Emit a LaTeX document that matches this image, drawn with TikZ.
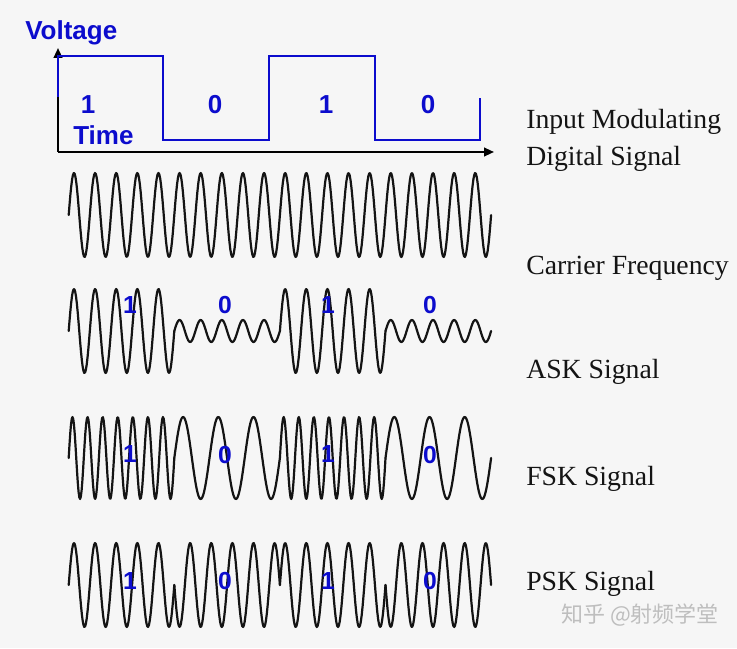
\documentclass[tikz,border=0pt]{standalone}
\usepackage{fontspec}
\setmainfont{Liberation Serif}
\newfontfamily\arialfont{Liberation Sans}
\newfontfamily\cjkfont{Noto Sans CJK SC}
\usetikzlibrary{arrows.meta}
\definecolor{bg}{RGB}{246,246,246}
\definecolor{sigblue}{RGB}{12,12,205}
\definecolor{wmark}{RGB}{190,190,190}
\begin{document}
\begin{tikzpicture}[x=0.75pt,y=-0.75pt,
  wave/.style={line width=1.65pt,black!92,line join=round,line cap=round},
  axisline/.style={line width=1.5pt,black,-{Triangle[length=7.5pt,width=6.5pt]}},
  sqwave/.style={line width=1.15pt,sigblue,line join=miter},
  bluelbl/.style={text=sigblue,font=\arialfont\bfseries\fontsize{19.5}{22}\selectfont,inner sep=0pt},
  bitlbl/.style={text=sigblue,font=\arialfont\bfseries\fontsize{19.5}{22}\selectfont,inner sep=0pt},
  sigbit/.style={text=sigblue,font=\arialfont\bfseries\fontsize{18.5}{20}\selectfont,inner sep=0pt},
  sidelbl/.style={anchor=base west,font=\fontsize{20.8}{24}\selectfont,inner sep=0pt,text=black!92}]
\fill[bg] (0,0) rectangle (737,648);
\useasboundingbox (0,0) rectangle (737,648);

% ---- input digital signal ----
\coordinate (origin) at (58,152);
\coordinate (ytip) at (58,48);
\coordinate (xtip) at (494,152);
\draw[axisline] (origin) -- (ytip);
\draw[axisline] (origin) -- (xtip);
\draw[sqwave] (58,97) -- (58,56) -- (163,56) -- (163,140) -- (269,140) -- (269,56)
  -- (375,56) -- (375,140) -- (480,140) -- (480,98);
\node[bluelbl,anchor=base west] (volt) at (25,40) {Voltage};
\node[bluelbl,anchor=base west] (time) at (73,145) {Time};
\node[bitlbl] (b1) at (88,105) {1};
\node[bitlbl] (b2) at (215,105) {0};
\node[bitlbl] (b3) at (326,105) {1};
\node[bitlbl] (b4) at (428,105) {0};

% ---- carrier ----
\draw[wave] plot[domain=0:422.4,samples=500] ({68.7+\x},{215-42*sin((\x/21.12)*360)});

% ---- ASK ----
\foreach \i/\a in {0/42,1/11,2/42,3/11}
  \draw[wave] plot[domain=0:105.6,samples=130] ({68.7+\i*105.6+\x},{331-\a*sin((\x/21.12)*360)});
\node[sigbit] (a1) at (130,305) {1};
\node[sigbit] (a2) at (225,305) {0};
\node[sigbit] (a3) at (328,305) {1};
\node[sigbit] (a4) at (430,305) {0};

% ---- FSK ----
\foreach \i/\p in {0/15.0857,1/35.2,2/15.0857,3/35.2}
  \draw[wave] plot[domain=0:105.6,samples=140] ({68.7+\i*105.6+\x},{458-41*sin((\x/\p)*360)});
\node[sigbit] (f1) at (130,454) {1};
\node[sigbit] (f2) at (225,455) {0};
\node[sigbit] (f3) at (328,454) {1};
\node[sigbit] (f4) at (430,455) {0};

% ---- PSK ----
\foreach \i/\s in {0/1,1/-1,2/1,3/-1}
  \draw[wave] plot[domain=0:105.6,samples=130] ({68.7+\i*105.6+\x},{585-\s*42*sin((\x/21.12)*360)});
\node[sigbit] (p1) at (130,581) {1};
\node[sigbit] (p2) at (225,581) {0};
\node[sigbit] (p3) at (328,581) {1};
\node[sigbit] (p4) at (430,581) {0};

% ---- side labels ----
\node[sidelbl] (inmod) at (526,129) {Input Modulating};
\node[sidelbl] (digsig) at (526,166) {Digital Signal};
\node[sidelbl] (carr) at (526,274) {Carrier Frequency};
\node[sidelbl] (ask) at (526,378) {ASK Signal};
\node[sidelbl] (fsk) at (526,485) {FSK Signal};
\node[sidelbl] (psk) at (526,590) {PSK Signal};

% ---- watermark ----
\node[text=wmark,font=\cjkfont\fontsize{16.5}{18}\selectfont,inner sep=0pt] (wm) at (640,615) {知乎 @射频学堂};
\end{tikzpicture}
\end{document}
